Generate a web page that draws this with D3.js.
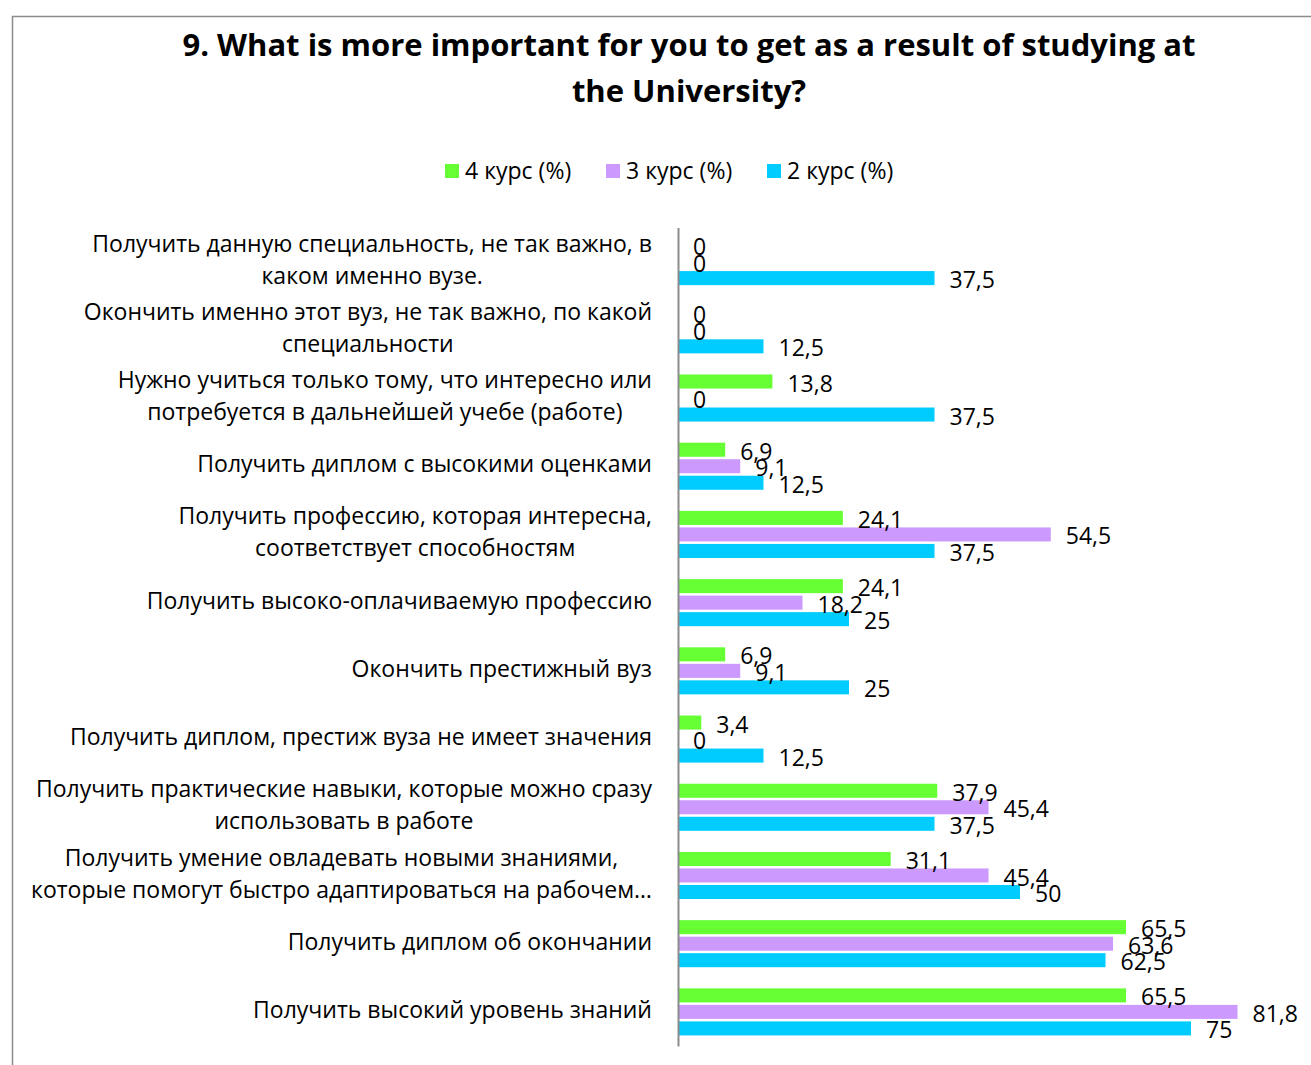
<!DOCTYPE html>
<html><head><meta charset="utf-8">
<script src="https://cdn.jsdelivr.net/npm/d3@7"></script>
<style>body{margin:0;background:#fff}svg{display:block}text{font-family:"Open Sans",sans-serif;fill:#000}</style>
</head><body>
<script>
const categories = [
  "Получить данную специальность, не так важно, в\nкаком именно вузе.",
  "Окончить именно этот вуз, не так важно, по какой\nспециальности",
  "Нужно учиться только тому, что интересно или\nпотребуется в дальнейшей учебе (работе)",
  "Получить диплом с высокими оценками",
  "Получить профессию, которая интересна,\nсоответствует способностям",
  "Получить высоко-оплачиваемую профессию",
  "Окончить престижный вуз",
  "Получить диплом, престиж вуза не имеет значения",
  "Получить практические навыки, которые можно сразу\nиспользовать в работе",
  "Получить умение овладевать новыми знаниями,\nкоторые помогут быстро адаптироваться на рабочем…",
  "Получить диплом об окончании",
  "Получить высокий уровень знаний"
];
const seriesNames = ["4 курс (%)", "3 курс (%)", "2 курс (%)"];
const course4 = [0, 0, 13.8, 6.9, 24.1, 24.1, 6.9, 3.4, 37.9, 31.1, 65.5, 65.5];
const course3 = [0, 0, 0, 9.1, 54.5, 18.2, 9.1, 0, 45.4, 45.4, 63.6, 81.8];
const course2 = [37.5, 12.5, 37.5, 12.5, 37.5, 25, 25, 12.5, 37.5, 50, 62.5, 75];
const titleLines = ["9. What is more important for you to get as a result of studying at", "the University?"];

const colors = ["#66FF33", "#CC99FF", "#00CCFF"];
const seriesValues = [course4, course3, course2];
const W = 1311, H = 1065;
const svg = d3.select("body").append("svg").attr("width", W).attr("height", H);

// chart border
svg.append("rect").attr("x", 12.5).attr("y", 16.5).attr("width", 1400).attr("height", 1200)
  .attr("fill", "none").attr("stroke", "#8c8c8c").attr("stroke-width", 1.5);

// title
svg.append("g").selectAll("text").data(titleLines).join("text")
  .attr("x", 689).attr("y", (d, i) => 56 + i * 46)
  .attr("text-anchor", "middle").attr("font-weight", "bold").attr("font-size", 31)
  .text(d => d);

// legend
const legendX = [445, 606, 767];
const lg = svg.append("g").selectAll("g").data(seriesNames).join("g")
  .attr("transform", (d, i) => `translate(${legendX[i]},171)`);
lg.append("rect").attr("x", 0).attr("y", -7).attr("width", 14).attr("height", 14).attr("fill", (d, i) => colors[i]);
lg.append("text").attr("x", 20).attr("y", 0).attr("dy", "0.35em").attr("font-size", 23).text(d => d);

// scales
const y = d3.scaleBand().domain(d3.range(categories.length)).range([227.5, 1046]).paddingInner(0.31).paddingOuter(0.155);
const ySub = d3.scaleBand().domain(d3.range(3)).range([0, y.bandwidth()]).paddingInner(0.15);
const x = d3.scaleLinear().domain([0, 90]).range([678, 678 + 90 * 6.84]);

// bars
const groups = svg.append("g").selectAll("g").data(categories).join("g")
  .attr("transform", (d, i) => `translate(0,${y(i)})`);
seriesValues.forEach((vals, s) => {
  groups.append("rect")
    .attr("x", x(0)).attr("y", ySub(s))
    .attr("width", (d, i) => x(vals[i]) - x(0)).attr("height", ySub.bandwidth())
    .attr("fill", colors[s]);
});
seriesValues.forEach((vals, s) => {
  groups.append("text")
    .attr("x", (d, i) => x(vals[i]) + 15).attr("y", ySub(s) + ySub.bandwidth() / 2 + 2)
    .attr("dy", "0.35em").attr("font-size", 23)
    .text((d, i) => String(vals[i]).replace(".", ","));
});

// axis
const axis = svg.append("g").attr("transform", `translate(${x(0)},0)`)
  .call(d3.axisLeft(y).tickSize(0).tickFormat(""));
axis.select(".domain").attr("stroke", "#8c8c8c").attr("stroke-width", 2);

// category labels
const rightEdge = 652;
groups.each(function (d, i) {
  const g = d3.select(this);
  const lines = d.split("\n");
  const cy = y.bandwidth() / 2 - 2;
  const t = g.append("g");
  const texts = t.selectAll("text").data(lines).join("text")
    .attr("y", (l, k) => cy + (k - (lines.length - 1) / 2) * 32)
    .attr("dy", "0.35em").attr("font-size", 23).attr("text-anchor", "middle").text(l => l);
  let maxW = 0;
  texts.each(function () { maxW = Math.max(maxW, this.getComputedTextLength()); });
  texts.attr("x", rightEdge - maxW / 2);
});
</script>
</body></html>
